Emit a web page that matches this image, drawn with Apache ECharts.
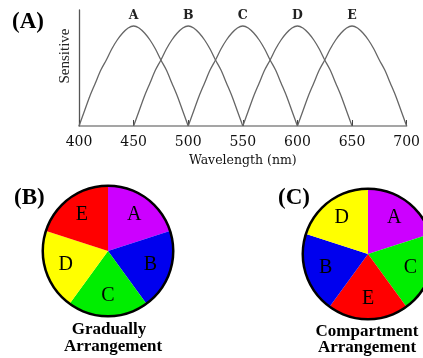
<!DOCTYPE html>
<html><head><meta charset="utf-8">
<script src="https://cdn.jsdelivr.net/npm/echarts@6/dist/echarts.min.js"></script>
<style>html,body{margin:0;padding:0;background:#fff}#c{width:423px;height:358px}</style>
</head><body><div id="c"></div>
<script>
// ---- data ----
const wavelengths = [400,405,410,415,420,425,430,435,440,445,450,455,460,465,470,475,480,485,490,495,500,505,510,515,520,525,530,535,540,545,550,555,560,565,570,575,580,585,590,595,600,605,610,615,620,625,630,635,640,645,650,655,660,665,670,675,680,685,690,695,700];
const receptorNames = ['A','B','C','D','E'];
const sensA = [0,0.15,0.3,0.43,0.56,0.66,0.77,0.86,0.93,0.98,1.0,0.98,0.93,0.86,0.77,0.66,0.56,0.43,0.3,0.15,0,
  null,null,null,null,null,null,null,null,null,null,null,null,null,null,null,null,null,null,null,null,
  null,null,null,null,null,null,null,null,null,null,null,null,null,null,null,null,null,null,null,null];
const sensB = [null,null,null,null,null,null,null,null,null,null,
  0,0.15,0.3,0.43,0.56,0.66,0.77,0.86,0.93,0.98,1.0,0.98,0.93,0.86,0.77,0.66,0.56,0.43,0.3,0.15,0,
  null,null,null,null,null,null,null,null,null,null,null,null,null,null,null,null,null,null,null,null,
  null,null,null,null,null,null,null,null,null,null];
const sensC = [null,null,null,null,null,null,null,null,null,null,null,null,null,null,null,null,null,null,null,null,
  0,0.15,0.3,0.43,0.56,0.66,0.77,0.86,0.93,0.98,1.0,0.98,0.93,0.86,0.77,0.66,0.56,0.43,0.3,0.15,0,
  null,null,null,null,null,null,null,null,null,null,null,null,null,null,null,null,null,null,null,null];
const sensD = [null,null,null,null,null,null,null,null,null,null,null,null,null,null,null,null,null,null,null,null,
  null,null,null,null,null,null,null,null,null,null,
  0,0.15,0.3,0.43,0.56,0.66,0.77,0.86,0.93,0.98,1.0,0.98,0.93,0.86,0.77,0.66,0.56,0.43,0.3,0.15,0,
  null,null,null,null,null,null,null,null,null,null];
const sensE = [null,null,null,null,null,null,null,null,null,null,null,null,null,null,null,null,null,null,null,null,
  null,null,null,null,null,null,null,null,null,null,null,null,null,null,null,null,null,null,null,null,
  0,0.15,0.3,0.43,0.56,0.66,0.77,0.86,0.93,0.98,1.0,0.98,0.93,0.86,0.77,0.66,0.56,0.43,0.3,0.15,0];
const xTicks = [400,450,500,550,600,650,700];
const gradualOrder = ['A','B','C','D','E'];
const compartmentOrder = ['A','C','E','B','D'];
const sliceValues = [1,1,1,1,1];
const sliceColors = {A:'#cc00ff', B:'#0000ee', C:'#00ee00', D:'#ffff00', E:'#ff0000'};

// ---- build ----
const allSens = [sensA,sensB,sensC,sensD,sensE];
const lineSeries = receptorNames.map((n,i)=>{
  const vals = allSens[i];
  const mx = Math.max(...vals.filter(v=>v!==null));
  const data = [];
  wavelengths.forEach((w,j)=>{
    if (vals[j]===null) return;
    if (vals[j]===mx) data.push({value:[w,vals[j]], label:{show:true, formatter:n, position:'top', distance:4,
      fontFamily:'DejaVu Serif', fontWeight:'bold', fontSize:12.5, color:'#222'}});
    else data.push([w,vals[j]]);
  });
  return {type:'line', name:n, data, smooth:0.3, symbol:'circle', symbolSize:0, showSymbol:true,
    label:{show:false},
    lineStyle:{color:'#666', width:1.3}, silent:true, xAxisIndex:0, yAxisIndex:0};
});
function pieSeries(order, cx, cy){
  const data = order.map((n,i)=>({name:n, value:sliceValues[i], itemStyle:{color:sliceColors[n]}}));
  return [
    {type:'pie', center:[cx,cy], radius:[0,65], startAngle:90, clockwise:true, silent:true,
      data, label:{show:false}, labelLine:{show:false}, itemStyle:{borderWidth:0}},
    {type:'pie', center:[cx,cy], radius:[18,65], startAngle:90, clockwise:true, silent:true,
      data: data.map(d=>({name:d.name, value:d.value, itemStyle:{color:'rgba(0,0,0,0)'}})),
      label:{show:true, position:'inner', formatter:'{b}', fontFamily:'Liberation Serif', fontSize:20, color:'#000'},
      labelLine:{show:false}},
    {type:'pie', center:[cx,cy], radius:[64,66.5], silent:true, data:[{name:'', value:1, itemStyle:{color:'#000'}}],
      label:{show:false}, labelLine:{show:false}}
  ];
}
const chart = echarts.init(document.getElementById('c'), null, {renderer:'canvas'});
chart.setOption({
  animation:false,
  backgroundColor:'#fff',
  grid:{left:79, right:15, top:10, bottom:232},
  xAxis:{type:'value', min:400, max:700, interval:50,
    axisLine:{lineStyle:{color:'#888', width:1.5}},
    axisTick:{inside:true, length:6, lineStyle:{color:'#444', width:1}},
    axisLabel:{margin:9, fontFamily:'DejaVu Serif', fontSize:14, color:'#111',
      formatter:v=>xTicks.includes(v)?String(v):''},
    splitLine:{show:false},
    name:'Wavelength (nm)', nameLocation:'middle', nameGap:28,
    nameTextStyle:{fontFamily:'DejaVu Serif', fontSize:12.5, color:'#111'}},
  yAxis:{type:'value', min:0, max:1.16,
    axisLine:{show:true, lineStyle:{color:'#555', width:1.3}},
    axisTick:{show:false}, axisLabel:{show:false}, splitLine:{show:false}},
  series:[...lineSeries, ...pieSeries(gradualOrder,108,251), ...pieSeries(compartmentOrder,368,254)],
  graphic:[
    {type:'text', left:12, top:11, style:{text:'(A)', font:'bold 23px "Liberation Serif"', fill:'#000'}},
    {type:'text', x:65, y:56, rotation:Math.PI/2, style:{text:'Sensitive', font:'15px "Liberation Serif"', fill:'#222', align:'center', verticalAlign:'middle'}},
    {type:'text', left:14, top:187, style:{text:'(B)', font:'bold 23px "Liberation Serif"', fill:'#000'}},
    {type:'text', left:278, top:187, style:{text:'(C)', font:'bold 23px "Liberation Serif"', fill:'#000'}},
    {type:'text', x:109, y:330, style:{text:'Gradually', font:'bold 17px "Liberation Serif"', fill:'#000', align:'center', verticalAlign:'middle'}},
    {type:'text', x:113, y:347, style:{text:'Arrangement', font:'bold 17px "Liberation Serif"', fill:'#000', align:'center', verticalAlign:'middle'}},
    {type:'text', x:367, y:332, style:{text:'Compartment', font:'bold 17px "Liberation Serif"', fill:'#000', align:'center', verticalAlign:'middle'}},
    {type:'text', x:367, y:348, style:{text:'Arrangement', font:'bold 17px "Liberation Serif"', fill:'#000', align:'center', verticalAlign:'middle'}}
  ]
});
</script></body></html>
